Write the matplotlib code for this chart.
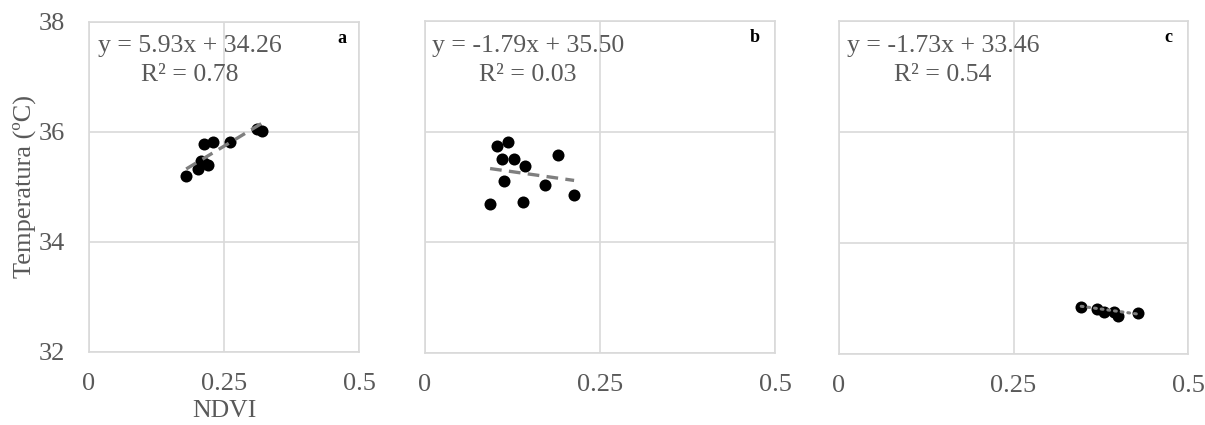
import numpy as np
import matplotlib.pyplot as plt

plt.rcParams['font.family'] = ['Liberation Serif', 'DejaVu Serif']

# panel a
ndvi_a = [0.180, 0.202, 0.208, 0.213, 0.220, 0.213, 0.230, 0.261, 0.311, 0.320]
temp_a = [35.20, 35.33, 35.47, 35.44, 35.40, 35.79, 35.82, 35.82, 36.06, 36.02]
# panel b
ndvi_b = [0.103, 0.119, 0.110, 0.127, 0.143, 0.190, 0.113, 0.172, 0.213, 0.093, 0.140]
temp_b = [35.75, 35.81, 35.50, 35.51, 35.38, 35.57, 35.11, 35.03, 34.86, 34.70, 34.73]
# panel c
ndvi_c = [0.347, 0.369, 0.379, 0.394, 0.399, 0.429]
temp_c = [32.85, 32.81, 32.76, 32.75, 32.68, 32.73]

slopes = [5.93, -1.79, -1.73]
intercepts = [34.26, 35.50, 33.46]
r2 = [0.78, 0.03, 0.54]
letters = ['a', 'b', 'c']

W, H = 1205, 425
fig = plt.figure(figsize=(W / 100, H / 100), dpi=100)

# pixel boxes: left, right, top, bottom
boxes = [(89, 359, 22, 352), (425, 775, 21, 353), (839, 1188, 21, 354)]
data = [(ndvi_a, temp_a), (ndvi_b, temp_b), (ndvi_c, temp_c)]
grey = '#595959'
gridc = '#d9d9d9'

for i, ((l, r, t, b), (xs, ys)) in enumerate(zip(boxes, data)):
    ax = fig.add_axes([l / W, (H - b) / H, (r - l) / W, (b - t) / H])
    ax.set_xlim(0, 0.5)
    ax.set_ylim(32, 38)
    ax.set_xticks([0, 0.25, 0.5])
    ax.set_xticklabels(['0', '0.25', '0.5'])
    ax.set_yticks([32, 34, 36, 38])
    ax.grid(True, color=gridc, linewidth=1.2)
    ax.set_axisbelow(True)
    for sp in ax.spines.values():
        sp.set_color(gridc)
        sp.set_linewidth(1.2)
    ax.tick_params(length=0, labelsize=19, colors=grey)
    ax.tick_params(axis='x', pad=15)
    if i > 0:
        ax.set_yticklabels([])
    else:
        ax.tick_params(axis='y', pad=17)
        ax.set_ylabel('Temperatura (ºC)', fontsize=19, color=grey, labelpad=2)
        ax.set_xlabel('NDVI', fontsize=18.5, color=grey, labelpad=4)

    ax.scatter(xs, ys, s=75, color='black', zorder=3, linewidths=0)
    xx = np.array([min(xs), max(xs)])
    yy = slopes[i] * xx + intercepts[i]
    if i < 2:
        ax.plot(xx, yy, color='#7f7f7f', linewidth=2.4, dashes=(3.5, 2.2), zorder=4)
    else:
        ax.plot(xx, yy, color='#7f7f7f', linewidth=2.2, linestyle=(0, (0.6, 1.6)),
                dash_capstyle='round', zorder=4)

    sign = '-' if slopes[i] < 0 else ''
    eq = f'y = {sign}{abs(slopes[i]):.2f}x + {intercepts[i]:.2f}\nR² = {r2[i]:.2f}'
    cx = [190, 528, 943][i]
    ax.text((cx - l) / (r - l), 1 - (35 - t) / (b - t), eq, transform=ax.transAxes,
            ha='center', va='top', fontsize=18.5, color=grey, linespacing=1.4)
    ax.text(0.955, 0.975, letters[i], transform=ax.transAxes, ha='right', va='top',
            fontsize=13, fontweight='bold', color='black')

fig.savefig('out.png', dpi=100)
